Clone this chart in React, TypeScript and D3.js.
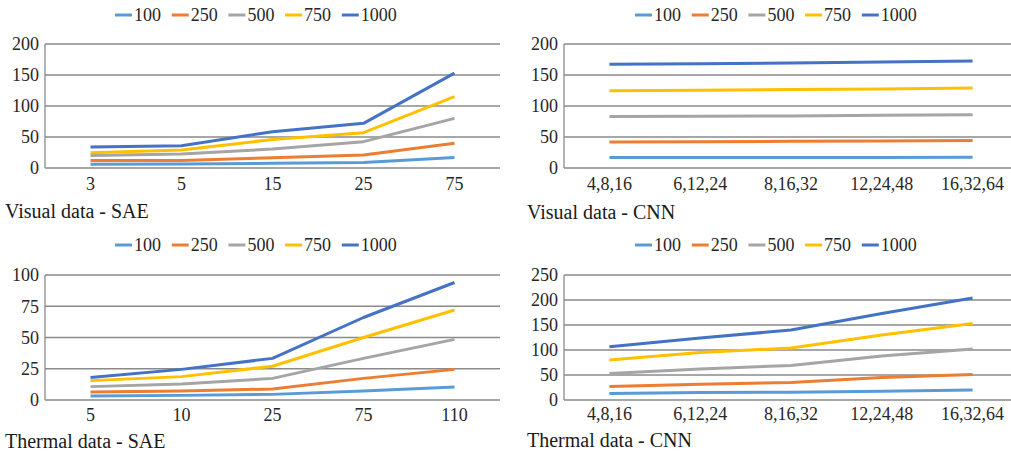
import React from 'react';
import * as d3 from 'd3';

// series names and colours (legend order)
const seriesNames = ['100', '250', '500', '750', '1000'];
const seriesColors = ['#5B9BD5', '#ED7D31', '#A5A5A5', '#FFC000', '#4472C4'];

// categories
const sae_visual_cats = ['3', '5', '15', '25', '75'];
const sae_thermal_cats = ['5', '10', '25', '75', '110'];
const cnn_cats = ['4,8,16', '6,12,24', '8,16,32', '12,24,48', '16,32,64'];

// values per series (100, 250, 500, 750, 1000)
const visual_sae = [
  [6, 6.5, 7.5, 9, 17],
  [12, 12, 16.5, 21, 40],
  [20, 22.5, 30.5, 42.5, 80],
  [24.5, 29, 46, 57, 115],
  [34, 36, 58.5, 72, 153],
];
const visual_cnn = [
  [17, 17, 17, 17, 17.5],
  [42, 42.5, 43, 43.5, 44.5],
  [83, 83.5, 84, 85, 86],
  [124.5, 125.5, 126.5, 127.5, 129],
  [167.5, 168, 169.5, 171, 172.5],
];
const thermal_sae = [
  [3.2, 3.7, 4.5, 7.2, 10.4],
  [6.4, 7.2, 8.8, 17.3, 24.5],
  [10.7, 12.8, 17.3, 33.3, 48.5],
  [15.5, 18.7, 27, 50, 72],
  [18, 24.5, 33.3, 66, 94],
];
const thermal_cnn = [
  [13, 15, 15.5, 17.5, 20],
  [27, 31.5, 35, 45, 51],
  [53, 62, 69, 88, 102],
  [80, 95, 104, 130, 153],
  [106.5, 124, 140, 173, 204],
];

const ticksVisual = [0, 50, 100, 150, 200];
const ticksThermalSae = [0, 25, 50, 75, 100];
const ticksThermalCnn = [0, 50, 100, 150, 200, 250];

const font = "'Liberation Serif', 'Times New Roman', serif";

function Panel(props) {
  const { cats, data, ticks, x0, x1, yBottom, yTop, legendX, legendY, labelY, title, titleX, titleY } = props;
  const x = d3.scalePoint().domain(cats).range([x0, x1]).padding(0.5);
  const y = d3.scaleLinear().domain([0, ticks[ticks.length - 1]]).range([yBottom, yTop]);
  const line = d3.line().x((d, i) => x(cats[i])).y(d => y(d));

  return (
    <g>
      {/* legend */}
      {seriesNames.map((name, i) => (
        <g key={name} transform={`translate(${legendX + i * 56.7},${legendY})`}>
          <line x1={0} x2={17} y1={0} y2={0} stroke={seriesColors[i]} strokeWidth={3} />
          <text x={19} y={0} dy="0.35em" fontSize={18} fill="#262626">{name}</text>
        </g>
      ))}
      {/* gridlines */}
      {ticks.map(t => (
        <line key={t} x1={x0} x2={x1} y1={y(t)} y2={y(t)} stroke="#8a8a8a" strokeWidth={1.3} />
      ))}
      <line x1={x0} x2={x0} y1={yTop} y2={yBottom} stroke="#8a8a8a" strokeWidth={1.3} />
      {/* y tick labels */}
      {ticks.map(t => (
        <text key={t} x={x0 - 6} y={y(t)} dy="0.35em" textAnchor="end" fontSize={18} fill="#262626">{t}</text>
      ))}
      {/* x tick labels */}
      {cats.map(c => (
        <text key={c} x={x(c)} y={labelY} textAnchor="middle" fontSize={18} fill="#262626">{c}</text>
      ))}
      {/* series */}
      {data.map((vals, i) => (
        <path key={i} d={line(vals)} fill="none" stroke={seriesColors[i]} strokeWidth={3} strokeLinejoin="round" />
      ))}
      <text x={titleX} y={titleY} fontSize={20} fill="#1a1a1a">{title}</text>
    </g>
  );
}

export default function App() {
  return (
    <svg width={1011} height={456} fontFamily={font} style={{ position: 'absolute', left: 0, top: 0, background: '#fff' }}>
      <rect width={1011} height={456} fill="#fff" />
      <Panel cats={sae_visual_cats} data={visual_sae} ticks={ticksVisual}
        x0={45} x1={500} yBottom={168} yTop={44} legendX={115} legendY={15} labelY={190}
        title="Visual data - SAE" titleX={5} titleY={218} />
      <Panel cats={cnn_cats} data={visual_cnn} ticks={ticksVisual}
        x0={564} x1={1018} yBottom={168} yTop={44} legendX={635} legendY={15} labelY={190}
        title="Visual data - CNN" titleX={527} titleY={219} />
      <Panel cats={sae_thermal_cats} data={thermal_sae} ticks={ticksThermalSae}
        x0={45} x1={500} yBottom={400} yTop={275} legendX={115} legendY={245} labelY={421}
        title="Thermal data - SAE" titleX={5} titleY={448} />
      <Panel cats={cnn_cats} data={thermal_cnn} ticks={ticksThermalCnn}
        x0={564} x1={1018} yBottom={400} yTop={275} legendX={635} legendY={245} labelY={420}
        title="Thermal data - CNN" titleX={527} titleY={447} />
    </svg>
  );
}
